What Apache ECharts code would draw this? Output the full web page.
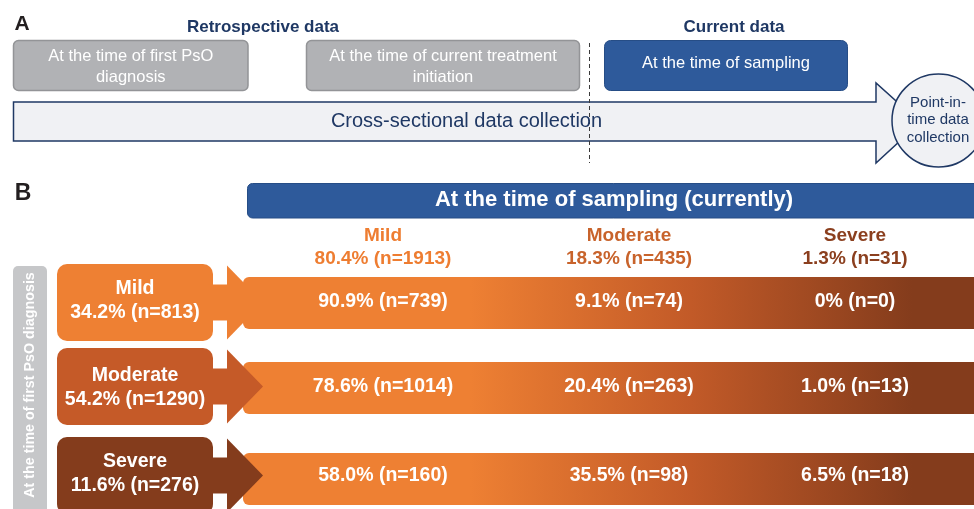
<!DOCTYPE html>
<html>
<head>
<meta charset="utf-8">
<script src="https://cdn.jsdelivr.net/npm/echarts@6/dist/echarts.min.js"></script>
<style>
html,body{margin:0;padding:0;background:#fff;}
#chart{width:974px;height:509px;}
</style>
</head>
<body>
<div id="chart"></div>
<script>
// ---- data ----
const LEVELS = ['Mild', 'Moderate', 'Severe'];
const FIRST_PCT = [34.2, 54.2, 11.6];
const FIRST_N = [813, 1290, 276];
const CURRENT_PCT = [80.4, 18.3, 1.3];
const CURRENT_N = [1913, 435, 31];
const TRANS_PCT = [[90.9, 9.1, 0], [78.6, 20.4, 1.0], [58.0, 35.5, 6.5]];
const TRANS_N = [[739, 74, 0], [1014, 263, 13], [160, 98, 18]];
const RETRO_STAGES = ['At the time of first PsO\ndiagnosis', 'At the time of current treatment\ninitiation'];
const CURRENT_STAGE = 'At the time of sampling';
const GROUP_TITLES = ['Retrospective data', 'Current data'];
const FLOW_TEXT = 'Cross-sectional data collection';
const POINT_TEXT = 'Point-in-\ntime data\ncollection';
const B_HEADER = 'At the time of sampling (currently)';
const B_SIDE = 'At the time of first PsO diagnosis';

// ---- styles / layout ----
const FF = '"Liberation Sans", Arial, sans-serif';
const NAVY = '#1f3864';
const BLUE = '#2e5a9b';
const BOX_COLORS = ['#ee8033', '#c55a28', '#843c1c'];
const HEAD_COLORS = ['#ee7d31', '#c8632b', '#8b3f1e'];
const COL_X = [383, 629, 855];
const BOX_TOP = [264, 348, 437];
const BAR_TOP = [277, 362, 453];
const TEXT_Y = [302, 387, 476];
const LABEL_Y = [300.5, 387.5, 474];

function fmt(p, n) {
  return (p === 0 ? '0' : p.toFixed(1)) + '% (n=' + n + ')';
}
function txt(text, x, y, font, fill, extra) {
  return Object.assign({
    type: 'text', x: x, y: y, z: 10,
    style: Object.assign({ text: text, x: 0, y: 0, font: font, fill: fill, align: 'center', verticalAlign: 'middle' }, extra || {})
  });
}

const g = [];
// Panel A
g.push(txt('A', 22, 24, 'bold 21px ' + FF, '#231f20'));
g.push(txt(GROUP_TITLES[0], 263, 27, 'bold 17px ' + FF, NAVY));
g.push(txt(GROUP_TITLES[1], 734, 27, 'bold 17px ' + FF, NAVY));

const retroBoxes = [[13.5, 234.5], [306.5, 273]];
retroBoxes.forEach(function (b, i) {
  g.push({ type: 'rect', shape: { x: b[0], y: 40.5, width: b[1], height: 50, r: 5 },
    style: { fill: '#b1b2b5', stroke: '#939497', lineWidth: 1.5 } });
  g.push(txt(RETRO_STAGES[i], b[0] + b[1] / 2, 66.5, '16.5px ' + FF, '#ffffff', { lineHeight: 21 }));
});
g.push({ type: 'rect', shape: { x: 604.5, y: 40.5, width: 243, height: 50, r: 6 },
  style: { fill: BLUE, stroke: '#264d86', lineWidth: 1 } });
g.push(txt(CURRENT_STAGE, 726, 63, '16.5px ' + FF, '#ffffff'));

g.push({ type: 'polygon', shape: { points: [[13.5, 102], [876, 102], [876, 83], [920, 122.5], [876, 163], [876, 141], [13.5, 141]] },
  style: { fill: '#f0f1f4', stroke: NAVY, lineWidth: 1.5 } });
g.push(txt(FLOW_TEXT, 466.5, 121, '20px ' + FF, NAVY));
g.push({ type: 'line', shape: { x1: 589.5, y1: 43, x2: 589.5, y2: 163 },
  style: { stroke: '#3a3a3a', lineWidth: 1, lineDash: [4, 3] } });
g.push({ type: 'circle', shape: { cx: 938.5, cy: 120.5, r: 46.5 },
  style: { fill: '#f0f1f4', stroke: NAVY, lineWidth: 1.5 } });
g.push(txt(POINT_TEXT, 938, 120, '15px ' + FF, NAVY, { lineHeight: 17.5 }));

// Panel B
g.push(txt('B', 23, 193.5, 'bold 23px ' + FF, '#231f20'));
g.push({ type: 'rect', shape: { x: 247.5, y: 183.5, width: 740, height: 34.5, r: 5 },
  style: { fill: BLUE, stroke: '#264d86', lineWidth: 1 } });
g.push(txt(B_HEADER, 614, 200, 'bold 22px ' + FF, '#ffffff'));

LEVELS.forEach(function (lv, j) {
  g.push(txt(lv + '\n' + fmt(CURRENT_PCT[j], CURRENT_N[j]), COL_X[j], 247, 'bold 19px ' + FF, HEAD_COLORS[j], { lineHeight: 23 }));
});

g.push({ type: 'rect', shape: { x: 13, y: 266, width: 34, height: 260, r: 5 }, style: { fill: '#c6c7c9' } });
g.push({ type: 'text', x: 30, y: 385, rotation: Math.PI / 2, z: 10,
  style: { text: B_SIDE, x: 0, y: 0, font: 'bold 14.3px ' + FF, fill: '#ffffff', align: 'center', verticalAlign: 'middle' } });

const barFill = new echarts.graphic.LinearGradient(470, 0, 912, 0, [
  { offset: 0, color: '#ee8033' },
  { offset: 0.5, color: '#c25a28' },
  { offset: 1, color: '#843c1c' }
], true);

LEVELS.forEach(function (lv, i) {
  const top = BOX_TOP[i];
  const cy = top + 38.5;
  // row bar
  g.push({ type: 'rect', z: 1, shape: { x: 243, y: BAR_TOP[i], width: 760, height: 52, r: [6, 0, 0, 6] },
    style: { fill: barFill } });
  // source box
  g.push({ type: 'rect', z: 2, shape: { x: 57, y: top, width: 156, height: 77, r: 10 }, style: { fill: BOX_COLORS[i] } });
  // stem
  g.push({ type: 'rect', z: 2, shape: { x: 208, y: cy - 18, width: 22, height: 36 }, style: { fill: BOX_COLORS[i] } });
  // arrowhead
  g.push({ type: 'polygon', z: 3, shape: { points: [[227, cy - 37], [263, cy], [227, cy + 37]] }, style: { fill: BOX_COLORS[i] } });
  g.push(txt(lv + '\n' + fmt(FIRST_PCT[i], FIRST_N[i]), 135, LABEL_Y[i], 'bold 19.5px ' + FF, '#ffffff', { lineHeight: 24 }));
  TRANS_PCT[i].forEach(function (p, j) {
    g.push(txt(fmt(p, TRANS_N[i][j]), COL_X[j], TEXT_Y[i], 'bold 19.5px ' + FF, '#ffffff'));
  });
});

const chart = echarts.init(document.getElementById('chart'), null, { renderer: 'canvas' });
chart.setOption({ animation: false, backgroundColor: '#ffffff', graphic: { elements: g } });
</script>
</body>
</html>
